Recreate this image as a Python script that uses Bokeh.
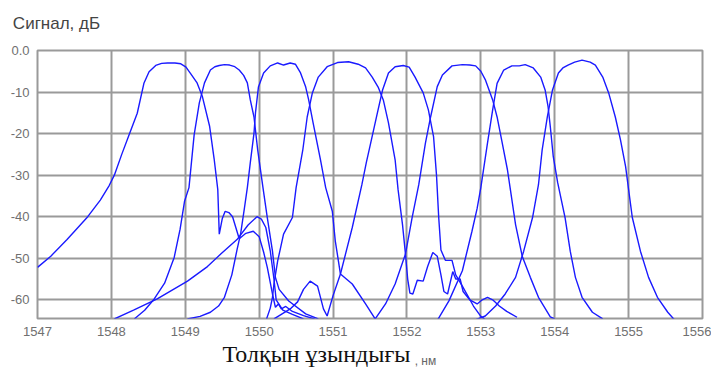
from bokeh.plotting import figure
from bokeh.models import FixedTicker, LinearAxis, Range1d
from bokeh.embed import file_html
from bokeh.resources import INLINE

# ---- data (wavelength nm, signal dB) ----
wl_ch1 = [1547.00, 1547.18, 1547.40, 1547.68, 1547.85, 1547.97, 1548.04, 1548.14, 1548.24, 1548.35,
          1548.44, 1548.51, 1548.60, 1548.68, 1548.76, 1548.86, 1548.94, 1549.01, 1549.07, 1549.16,
          1549.23, 1549.33, 1549.39, 1549.44, 1549.46, 1549.50, 1549.54, 1549.59, 1549.64, 1549.73,
          1549.82, 1549.92, 1550.00, 1550.06, 1550.11, 1550.18, 1550.22, 1550.26, 1550.30, 1550.36,
          1550.45, 1550.60, 1550.75]
db_ch1 = [-52.2, -49.5, -45.5, -40.0, -36.0, -32.5, -30.0, -25.0, -20.3, -15.1,
          -7.9, -5.1, -3.6, -3.1, -3.0, -3.0, -3.2, -4.0, -5.5, -7.8,
          -11.0, -18.3, -26.0, -33.5, -44.2, -40.5, -38.7, -39.0, -40.0, -45.3,
          -44.0, -43.5, -44.8, -48.5, -52.2, -58.6, -61.8, -61.0, -62.2, -61.6,
          -62.8, -63.8, -64.6]

wl_ch2 = [1548.31, 1548.45, 1548.58, 1548.72, 1548.85, 1548.93, 1548.99, 1549.05, 1549.12, 1549.19,
          1549.26, 1549.34, 1549.40, 1549.46, 1549.53, 1549.60, 1549.67, 1549.73, 1549.79, 1549.84,
          1549.88, 1549.93, 1549.98, 1550.05, 1550.11, 1550.18, 1550.22, 1550.27, 1550.40, 1550.63,
          1550.80]
db_ch2 = [-64.6, -62.5, -59.8, -56.0, -49.8, -43.0, -36.3, -33.0, -20.3, -12.6,
          -7.8, -4.7, -3.9, -3.6, -3.4, -3.5, -3.9, -4.7, -6.0, -7.8,
          -11.9, -16.0, -23.9, -32.8, -40.2, -48.3, -54.6, -57.5, -60.3, -63.4,
          -64.6]

wl_ch3 = [1549.03, 1549.20, 1549.34, 1549.45, 1549.53, 1549.63, 1549.70, 1549.75, 1549.80, 1549.84,
          1549.88, 1549.93, 1549.95, 1549.99, 1550.06, 1550.15, 1550.25, 1550.33, 1550.42, 1550.49,
          1550.56, 1550.63, 1550.67, 1550.73, 1550.83, 1550.90, 1550.99, 1551.03, 1551.10, 1551.26,
          1551.44, 1551.57]
db_ch3 = [-64.6, -64.0, -63.0, -61.5, -59.4, -54.0, -48.0, -44.0, -38.0, -33.0,
          -27.0, -19.9, -15.0, -8.8, -5.4, -3.7, -3.0, -3.5, -3.0, -3.3,
          -5.4, -8.8, -11.9, -17.4, -26.3, -33.0, -38.7, -45.8, -53.8, -56.2,
          -61.0, -64.6]

wl_ch4 = [1550.10, 1550.15, 1550.18, 1550.20, 1550.25, 1550.33, 1550.45, 1550.50, 1550.59, 1550.65,
          1550.72, 1550.80, 1550.92, 1551.06, 1551.21, 1551.34, 1551.44, 1551.53, 1551.61, 1551.68,
          1551.75, 1551.84, 1551.88, 1551.94, 1551.98, 1552.01, 1552.04, 1552.08, 1552.14, 1552.22,
          1552.28, 1552.35, 1552.41, 1552.46, 1552.50, 1552.55, 1552.62, 1552.66, 1552.72, 1552.76,
          1552.85, 1552.95, 1553.02, 1553.09, 1553.16, 1553.25, 1553.35, 1553.49]
db_ch4 = [-64.6, -62.0, -59.4, -56.2, -50.7, -44.2, -40.2, -33.0, -24.0, -16.0,
          -10.2, -6.4, -3.9, -2.9, -2.7, -3.3, -4.2, -6.4, -8.8, -11.9,
          -17.4, -26.3, -33.5, -41.9, -49.0, -55.0, -58.4, -58.6, -55.3, -55.5,
          -52.0, -48.6, -49.5, -54.0, -58.0, -58.6, -53.2, -55.0, -55.0, -58.0,
          -60.0, -61.0, -60.0, -59.4, -60.0, -61.5, -62.8, -64.2]

wl_ch5 = [1550.20, 1550.30, 1550.42, 1550.52, 1550.60, 1550.69, 1550.79, 1550.87, 1550.92, 1551.00,
          1551.10, 1551.26, 1551.39, 1551.45, 1551.50, 1551.60, 1551.67, 1551.75, 1551.84, 1551.95,
          1552.03, 1552.11, 1552.22, 1552.29, 1552.36, 1552.40, 1552.43, 1552.46, 1552.52, 1552.61,
          1552.66, 1552.75, 1552.90, 1553.00, 1553.05]
db_ch5 = [-64.6, -63.5, -62.2, -60.5, -57.5, -55.5, -56.7, -62.2, -63.9, -59.0,
          -53.8, -42.6, -32.3, -27.0, -23.0, -15.0, -9.5, -5.4, -3.9, -3.6,
          -4.0, -6.4, -10.2, -14.3, -20.7, -30.0, -40.2, -48.0, -50.5, -50.5,
          -54.0, -56.7, -61.5, -64.0, -64.6]

wl_ch6 = [1551.57, 1551.71, 1551.84, 1551.98, 1552.07, 1552.16, 1552.25, 1552.32, 1552.41, 1552.48,
          1552.61, 1552.75, 1552.85, 1552.93, 1553.00, 1553.06, 1553.16, 1553.22, 1553.29, 1553.36,
          1553.40, 1553.47, 1553.56, 1553.67, 1553.78, 1553.94, 1554.00]
db_ch6 = [-64.6, -61.0, -56.2, -49.0, -40.2, -32.3, -22.3, -16.0, -8.7, -5.9,
          -3.7, -3.4, -3.5, -3.7, -5.0, -7.0, -11.9, -16.0, -22.3, -28.7,
          -33.5, -41.9, -49.5, -54.6, -59.4, -64.1, -64.6]

wl_ch7 = [1552.41, 1552.57, 1552.75, 1552.88, 1552.95, 1553.00, 1553.09, 1553.16, 1553.22, 1553.31,
          1553.42, 1553.52, 1553.60, 1553.71, 1553.81, 1553.87, 1553.91, 1553.94, 1553.98, 1554.04,
          1554.14, 1554.21, 1554.28, 1554.37, 1554.51, 1554.65]
db_ch7 = [-65.0, -60.2, -53.0, -43.5, -38.0, -33.0, -22.3, -14.3, -7.9, -4.7,
          -3.7, -3.7, -3.4, -4.2, -6.4, -9.5, -13.5, -18.3, -25.5, -31.8,
          -40.2, -48.3, -54.6, -59.4, -63.0, -64.6]

wl_ch8 = [1552.90, 1553.06, 1553.20, 1553.33, 1553.47, 1553.58, 1553.70, 1553.78, 1553.83, 1553.90,
          1553.97, 1554.05, 1554.11, 1554.18, 1554.27, 1554.37, 1554.48, 1554.55, 1554.65, 1554.73,
          1554.82, 1554.89, 1554.96, 1555.00, 1555.05, 1555.16, 1555.27, 1555.39, 1555.53, 1555.63]
db_ch8 = [-65.0, -63.9, -61.5, -58.6, -54.6, -48.3, -40.2, -32.3, -23.9, -16.0,
          -9.5, -5.4, -4.2, -3.5, -2.8, -2.3, -2.8, -3.5, -6.4, -10.2,
          -16.0, -21.5, -28.0, -33.5, -40.2, -48.3, -54.6, -59.4, -63.0, -65.0]

wl_xtalk = [1548.04, 1548.30, 1548.62, 1549.03, 1549.30, 1549.48, 1549.70, 1549.85, 1549.97, 1550.03,
            1550.09, 1550.15, 1550.20, 1550.23, 1550.32, 1550.45, 1550.60]
db_xtalk = [-64.6, -62.5, -59.8, -55.5, -52.0, -49.0, -45.5, -42.0, -40.0, -40.6,
            -42.6, -48.2, -55.0, -60.0, -62.5, -63.5, -64.6]

series = [(wl_ch1, db_ch1), (wl_ch2, db_ch2), (wl_ch3, db_ch3), (wl_ch4, db_ch4),
          (wl_ch5, db_ch5), (wl_ch6, db_ch6), (wl_ch7, db_ch7), (wl_ch8, db_ch8),
          (wl_xtalk, db_xtalk)]

x_ticks = [1547, 1548, 1549, 1550, 1551, 1552, 1553, 1554, 1555, 1556]
x_tick_labels = ["1547", "1548", "1549", "1550", "1551", "1552", "1553", "1554", "1555", "1556"]
y_ticks = [0, -10, -20, -30, -40, -50, -60]
y_tick_labels = ["0.0", "-10", "-20", "-30", "-40", "-50", "-60"]

title_text = "Сигнал, дБ"
xlabel_text = "Толқын ұзындығы"
xunit_text = ", нм"

# ---- figure ----
p = figure(width=711, height=370, x_range=Range1d(1547, 1556), y_range=Range1d(-64.5, 0),
           output_backend="svg", toolbar_location=None,
           min_border_left=37, min_border_right=9, min_border_top=50, min_border_bottom=50)
p.background_fill_color = "white"
p.border_fill_color = "white"
p.outline_line_color = "#9a9a9a"
p.outline_line_width = 2

for ax in (p.xaxis[0], p.yaxis[0]):
    ax.axis_line_color = None
    ax.major_tick_line_color = None
    ax.minor_tick_line_color = None
    ax.major_tick_out = 0
    ax.major_tick_in = 0
    ax.major_label_text_font = "Liberation Sans"
    ax.major_label_text_font_size = "13px"
    ax.major_label_text_color = "#707070"
p.xaxis.major_label_standoff = 8
p.yaxis.major_label_standoff = 8

p.xaxis.ticker = FixedTicker(ticks=x_ticks)
p.xaxis.major_label_overrides = {t: s for t, s in zip(x_ticks, x_tick_labels)}
p.yaxis.ticker = FixedTicker(ticks=y_ticks)
p.yaxis.major_label_overrides = {t: s for t, s in zip(y_ticks, y_tick_labels)}

p.xgrid.ticker = FixedTicker(ticks=x_ticks)
p.ygrid.ticker = FixedTicker(ticks=y_ticks)
for g in (p.xgrid[0], p.ygrid[0]):
    g.grid_line_color = "#9a9a9a"
    g.grid_line_width = 2

for wl, db in series:
    p.line(wl, db, line_color="#1a1aff", line_width=1.4)


def text_axis(center_x, side, standoff, text, font, size, color, alpha=1.0):
    ax = LinearAxis(ticker=FixedTicker(ticks=[center_x]),
                    major_label_overrides={center_x: text})
    ax.axis_line_color = None
    ax.major_tick_line_color = None
    ax.minor_tick_line_color = None
    ax.major_tick_out = 0
    ax.major_tick_in = 0
    ax.major_label_standoff = standoff
    ax.major_label_text_font = font
    ax.major_label_text_font_size = size
    ax.major_label_text_color = color
    ax.major_label_text_alpha = alpha
    p.add_layout(ax, side)


# chart title (above), axis name and unit (below), centred on their wavelength positions
text_axis(1547.257, "above", 18, title_text, "Liberation Sans", "17px", "#444444")
text_axis(1550.775, "below", 2, xlabel_text, "Liberation Serif", "24px", "#111111")
text_axis(1552.25, "below", -16, xunit_text, "Liberation Sans", "12px", "#666666")
# empty spacer panel with negative size so the stacked texts may reach the bottom edge
text_axis(1551.5, "below", -45, " ", "Liberation Sans", "10px", "#ffffff", alpha=0.0)

open("out.html", "w").write(file_html(p, INLINE))
